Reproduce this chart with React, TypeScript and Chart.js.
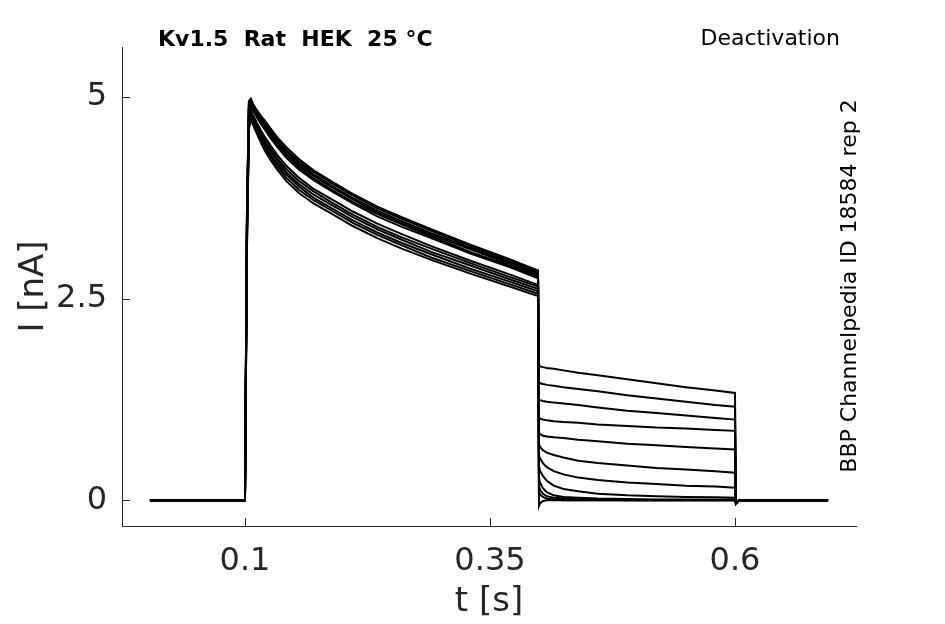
import { useEffect, useRef } from 'react'
import { Chart, registerables } from 'chart.js'

Chart.register(...registerables)
Chart.defaults.font.family = '"DejaVu Sans", sans-serif'

// time bases of the protocol (s)
const preTime = [0.003, 0.099]
const stepTime = [0.1, 0.102, 0.104, 0.106, 0.108, 0.112, 0.116, 0.12, 0.126, 0.133, 0.142, 0.155, 0.17, 0.19, 0.21, 0.235, 0.26, 0.29, 0.33, 0.37, 0.399]
const tailTime = [0.4, 0.401, 0.404, 0.408, 0.415, 0.425, 0.44, 0.46, 0.49, 0.52, 0.55, 0.58, 0.6]
const postTime = [0.601, 0.604, 0.695]

// current (nA)
const preCurrent = [0, 0]
const postCurrent = [-0.04, 0, 0]

const stepCurrent = [
  [0.02, 3.6, 4.95, 4.98, 4.92, 4.84, 4.77, 4.71, 4.61, 4.5, 4.38, 4.23, 4.09, 3.94, 3.8, 3.64, 3.51, 3.36, 3.17, 2.99, 2.85],
  [0.02, 3.55, 4.93, 4.96, 4.9, 4.82, 4.75, 4.69, 4.59, 4.48, 4.35, 4.2, 4.07, 3.92, 3.78, 3.62, 3.49, 3.34, 3.15, 2.97, 2.83],
  [0.01, 3.5, 4.91, 4.95, 4.89, 4.81, 4.73, 4.67, 4.56, 4.45, 4.33, 4.18, 4.04, 3.89, 3.75, 3.59, 3.46, 3.31, 3.13, 2.95, 2.81],
  [0.02, 3.45, 4.89, 4.93, 4.87, 4.79, 4.71, 4.64, 4.54, 4.43, 4.3, 4.15, 4.02, 3.87, 3.73, 3.57, 3.44, 3.29, 3.11, 2.93, 2.79],
  [0.01, 3.4, 4.87, 4.92, 4.86, 4.77, 4.69, 4.62, 4.52, 4.4, 4.28, 4.13, 3.99, 3.84, 3.7, 3.55, 3.42, 3.27, 3.08, 2.91, 2.77],
  [0.02, 3.45, 4.84, 4.9, 4.84, 4.75, 4.67, 4.6, 4.49, 4.38, 4.25, 4.1, 3.97, 3.82, 3.68, 3.52, 3.39, 3.25, 3.06, 2.89, 2.75],
  [0.01, 3.35, 4.76, 4.84, 4.78, 4.68, 4.59, 4.51, 4.4, 4.28, 4.15, 4.0, 3.86, 3.72, 3.58, 3.43, 3.3, 3.15, 2.97, 2.8, 2.67],
  [0.02, 3.3, 4.73, 4.81, 4.75, 4.65, 4.56, 4.47, 4.36, 4.24, 4.11, 3.96, 3.83, 3.68, 3.54, 3.39, 3.26, 3.12, 2.94, 2.77, 2.65],
  [0.01, 3.25, 4.69, 4.79, 4.73, 4.63, 4.53, 4.44, 4.33, 4.21, 4.07, 3.92, 3.79, 3.65, 3.51, 3.36, 3.23, 3.08, 2.91, 2.74, 2.62],
  [0.02, 3.2, 4.66, 4.77, 4.71, 4.6, 4.5, 4.41, 4.29, 4.17, 4.04, 3.89, 3.75, 3.61, 3.47, 3.32, 3.19, 3.05, 2.87, 2.71, 2.59],
  [0.01, 3.15, 4.63, 4.74, 4.68, 4.58, 4.47, 4.37, 4.26, 4.14, 4.0, 3.85, 3.72, 3.58, 3.44, 3.29, 3.16, 3.01, 2.84, 2.68, 2.56],
  [0.01, 3.1, 4.6, 4.72, 4.66, 4.55, 4.44, 4.34, 4.22, 4.1, 3.96, 3.81, 3.68, 3.54, 3.4, 3.25, 3.12, 2.98, 2.81, 2.65, 2.53],
]

const tailCurrent = [
  [1.68, 1.66, 1.65, 1.64, 1.63, 1.61, 1.58, 1.55, 1.5, 1.45, 1.4, 1.36, 1.33],
  [1.47, 1.45, 1.44, 1.43, 1.42, 1.4, 1.38, 1.35, 1.3, 1.26, 1.22, 1.18, 1.16],
  [1.26, 1.24, 1.23, 1.22, 1.21, 1.2, 1.18, 1.15, 1.11, 1.08, 1.05, 1.02, 1.0],
  [1.03, 1.01, 1.0, 0.99, 0.98, 0.97, 0.96, 0.94, 0.92, 0.9, 0.89, 0.87, 0.86],
  [0.84, 0.82, 0.8, 0.79, 0.78, 0.77, 0.75, 0.73, 0.7, 0.68, 0.66, 0.64, 0.63],
  [0.7, 0.66, 0.62, 0.59, 0.56, 0.53, 0.49, 0.46, 0.43, 0.4, 0.38, 0.36, 0.34],
  [0.56, 0.52, 0.46, 0.41, 0.36, 0.32, 0.28, 0.25, 0.22, 0.2, 0.18, 0.17, 0.155],
  [0.42, 0.37, 0.3, 0.24, 0.18, 0.14, 0.11, 0.08, 0.06, 0.05, 0.04, 0.035, 0.03],
  [0.28, 0.22, 0.15, 0.1, 0.06, 0.04, 0.03, 0.02, 0.015, 0.01, 0.01, 0.01, 0.01],
  [0.18, 0.13, 0.08, 0.05, 0.03, 0.02, 0.01, 0.01, 0, 0, 0, 0, 0],
  [0.1, 0.07, 0.04, 0.02, 0.01, 0, 0, 0, 0, 0, 0, 0, 0],
  [-0.07, -0.04, -0.01, 0, 0, 0, 0, 0, 0, 0, 0, 0, 0],
]

const xTicks = [0.1, 0.35, 0.6]
const yTicks = [0, 2.5, 5]

const title = 'Kv1.5  Rat  HEK  25 °C'
const protocol = 'Deactivation'
const source = 'BBP Channelpedia ID 18584 rep 2'

const axisColor = '#262626'

// MATLAB style inward ticks + annotation texts
const decorations = {
  id: 'decorations',
  afterDraw (chart) {
    const { ctx, chartArea, scales } = chart
    ctx.save()
    ctx.strokeStyle = axisColor
    ctx.lineWidth = 1
    ctx.beginPath()
    for (const v of xTicks) {
      const px = Math.round(scales.x.getPixelForValue(v)) + 0.5
      ctx.moveTo(px, chartArea.bottom)
      ctx.lineTo(px, chartArea.bottom - 8)
    }
    for (const v of yTicks) {
      const py = Math.round(scales.y.getPixelForValue(v)) + 0.5
      ctx.moveTo(chartArea.left, py)
      ctx.lineTo(chartArea.left + 8, py)
    }
    ctx.stroke()

    ctx.fillStyle = '#000'
    ctx.textBaseline = 'middle'
    ctx.font = 'bold 22px "DejaVu Sans"'
    ctx.textAlign = 'left'
    ctx.fillText(title, 158, 40)
    ctx.font = '22px "DejaVu Sans"'
    ctx.textAlign = 'right'
    ctx.fillText(protocol, 840, 39)

    ctx.translate(850, 286)
    ctx.rotate(-Math.PI / 2)
    ctx.textAlign = 'center'
    ctx.fillText(source, 0, 0)
    ctx.restore()
  },
}

function buildTrace (i: number) {
  const times = [...preTime, ...stepTime, ...tailTime, ...postTime]
  const values = [...preCurrent, ...stepCurrent[i], ...tailCurrent[i], ...postCurrent]
  return times.map((t, k) => ({ x: t, y: values[k] }))
}

function TraceChart () {
  const chartRef = useRef(null)
  const chartInstance = useRef(null)

  useEffect(() => {
    if (chartInstance.current) {
      chartInstance.current.destroy()
    }

    const datasets = stepCurrent.map((_, i) => ({
      data: buildTrace(i),
      borderColor: '#000',
      borderWidth: 2,
      pointRadius: 0,
      tension: 0,
      fill: false,
    }))

    chartInstance.current = new Chart(chartRef.current.getContext('2d'), {
      type: 'line',
      data: { datasets },
      plugins: [decorations],
      options: {
        animation: false,
        responsive: true,
        maintainAspectRatio: false,
        devicePixelRatio: 1,
        layout: { padding: { top: 47, right: 89, left: 0, bottom: 0 } },
        plugins: {
          legend: { display: false },
          tooltip: { enabled: false },
        },
        scales: {
          x: {
            type: 'linear',
            min: -0.0255,
            max: 0.7235,
            afterFit (scale) { scale.height = 98 },
            afterBuildTicks (scale) { scale.ticks = xTicks.map(v => ({ value: v })) },
            grid: { display: false, drawTicks: false },
            border: { display: true, color: axisColor, width: 1 },
            ticks: {
              color: axisColor,
              font: { size: 32 },
              padding: 16,
              maxRotation: 0,
              callback: v => String(v),
            },
            title: {
              display: true,
              text: 't [s]',
              color: axisColor,
              font: { size: 34, lineHeight: 1 },
              padding: { top: 0, bottom: 5 },
            },
          },
          y: {
            type: 'linear',
            min: -0.32,
            max: 5.62,
            afterFit (scale) { scale.width = 122 },
            afterBuildTicks (scale) { scale.ticks = yTicks.map(v => ({ value: v })) },
            grid: { display: false, drawTicks: false },
            border: { display: true, color: axisColor, width: 1 },
            ticks: {
              color: axisColor,
              font: { size: 32 },
              padding: 15,
              callback: v => String(v),
            },
            title: {
              display: true,
              text: 'I [nA]',
              color: axisColor,
              font: { size: 34, lineHeight: 1 },
              padding: { top: 17, bottom: 0 },
            },
          },
        },
      },
    })

    return () => {
      if (chartInstance.current) {
        chartInstance.current.destroy()
        chartInstance.current = null
      }
    }
  }, [])

  return <canvas ref={chartRef} />
}

export default function App () {
  return (
    <div style={{ position: 'fixed', left: 0, top: 0, width: 945, height: 624, background: '#fff' }}>
      <TraceChart />
    </div>
  )
}
